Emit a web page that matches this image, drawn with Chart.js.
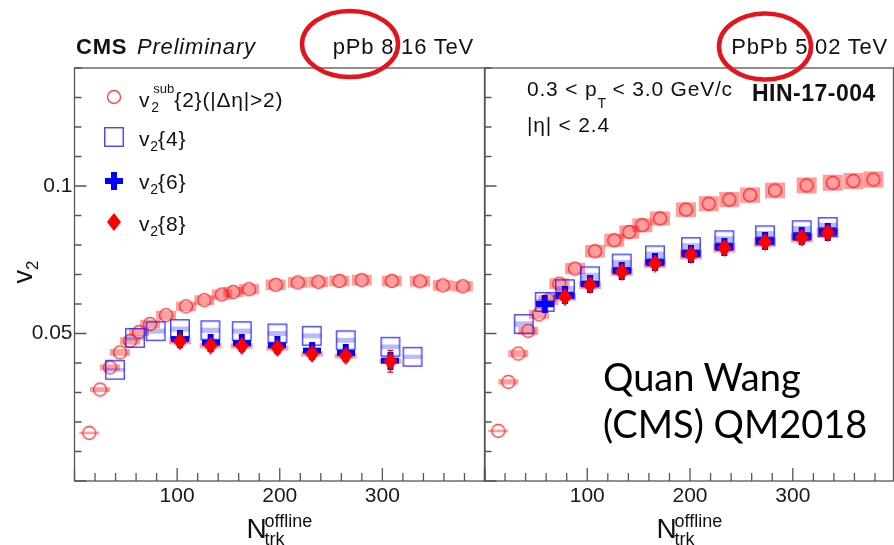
<!DOCTYPE html>
<html>
<head>
<meta charset="utf-8">
<title>v2 multi-particle cumulants vs multiplicity: pPb and PbPb</title>
<script src="https://cdn.jsdelivr.net/npm/chart.js@4.4.1/dist/chart.umd.min.js"></script>
<style>
  html, body { margin: 0; padding: 0; background: #fff; }
  #fig { position: relative; width: 894px; height: 545px; overflow: hidden; background: #fff; }
  #fig canvas { position: absolute; top: 0; }
  .t { position: absolute; white-space: nowrap; font-family: "Liberation Sans", Arial, Helvetica, sans-serif;
       line-height: 1; color: #111; letter-spacing: 0.8px; }
  .t .a { position: absolute; line-height: 1; }
  .t .sb { position: relative; top: 5px; font-size: 14px; letter-spacing: 0; }
  .ss { display: inline-block; position: relative; width: 24px; height: 21px; }
  .note { position: absolute; white-space: nowrap; font-family: Lato, "Open Sans", sans-serif;
          font-size: 38px; line-height: 1; color: #000; }
  #marks { position: absolute; left: 0; top: 0; pointer-events: none; }
</style>
</head>
<body>
<div id="fig">
  <canvas id="cPPb" width="486" height="545" style="left:0"></canvas>
  <canvas id="cPbPb" width="414" height="545" style="left:480px"></canvas>

  <!-- headers -->
  <div class="t" style="left:76px;top:36px;font-size:22px;font-weight:bold">CMS</div>
  <div class="t" style="left:137px;top:36px;font-size:22px;font-style:italic">Preliminary</div>
  <div class="t" style="right:420px;top:36px;font-size:22px">pPb 8.16 TeV</div>
  <div class="t" style="right:6px;top:36px;font-size:22px">PbPb 5.02 TeV</div>

  <!-- kinematic selection and analysis tag -->
  <div class="t" style="left:527px;top:78px;font-size:21px">0.3 &lt; p<span style="position:relative;top:12px;font-size:14px;letter-spacing:0">T</span> &lt; 3.0 GeV/c</div>
  <div class="t" style="left:527px;top:114px;font-size:21px">|η| &lt; 2.4</div>
  <div class="t" style="left:752px;top:82px;font-size:23px;font-weight:bold;letter-spacing:0.5px">HIN-17-004</div>

  <!-- legend text -->
  <div class="t" style="left:139px;top:85.7px;font-size:21px">v<span class="ss"><span class="a" style="left:3px;top:-4px;font-size:13px;letter-spacing:0">sub</span><span class="a" style="left:1px;top:14px;font-size:14px">2</span></span>{2}(|Δη|&gt;2)</div>
  <div class="t" style="left:139px;top:127.7px;font-size:21px">v<span class="sb">2</span>{4}</div>
  <div class="t" style="left:139px;top:171.2px;font-size:21px">v<span class="sb">2</span>{6}</div>
  <div class="t" style="left:139px;top:212.7px;font-size:21px">v<span class="sb">2</span>{8}</div>

  <!-- axis titles -->
  <div class="t" style="left:23px;top:272px;font-size:27px;letter-spacing:0;transform:translate(-50%,-50%) rotate(-90deg)">v<span style="position:relative;top:6px;font-size:17px">2</span></div>
  <div class="t" style="left:246.5px;top:514.6px;font-size:28px;letter-spacing:0">N<span class="a" style="left:18px;top:-3px;font-size:18px">offline</span><span class="a" style="left:18px;top:15px;font-size:18px">trk</span></div>
  <div class="t" style="left:656.5px;top:514.6px;font-size:28px;letter-spacing:0">N<span class="a" style="left:18px;top:-3px;font-size:18px">offline</span><span class="a" style="left:18px;top:15px;font-size:18px">trk</span></div>

  <!-- talk credit -->
  <div class="note" style="left:603px;top:357px">Quan Wang</div>
  <div class="note" style="left:603px;top:404px">(CMS) QM2018</div>

  <svg id="marks" width="894" height="545">
    <ellipse cx="350" cy="44" rx="48" ry="33" fill="none" stroke="#e5141c" stroke-width="4.5"/>
    <ellipse cx="765" cy="46.5" rx="46" ry="33" fill="none" stroke="#e5141c" stroke-width="4.5"/>
  </svg>
</div>

<script>
// ---------------- data ----------------
// pPb 8.16 TeV
const pPbSubNtrk = [14.4, 24.9, 34.6, 44.3, 54.1, 62.9, 73.6, 89.2, 108.7, 126.5, 143.5, 154.8, 170.1, 196.1, 217.6, 237.6, 258.1, 279.9, 309.2, 336.7, 358.9, 378.4];
const pPbSubV2   = [0.0163, 0.0310, 0.0385, 0.0436, 0.0475, 0.0505, 0.0532, 0.0562, 0.0592, 0.0613, 0.0632, 0.0641, 0.0650, 0.0665, 0.0673, 0.0675, 0.0678, 0.0681, 0.0678, 0.0677, 0.0663, 0.0660];
const pPbC4Ntrk  = [39.5, 59.0, 79.1, 102.8, 132.4, 163.0, 197.7, 231.2, 264.3, 307.8, 329.4];
const pPbC4V2    = [0.0377, 0.0485, 0.0508, 0.0515, 0.0511, 0.0508, 0.0500, 0.0492, 0.0477, 0.0455, 0.0421];
const pPbC68Ntrk = [102.8, 132.6, 163.0, 197.7, 231.5, 264.3, 307.8];
const pPbC6V2    = [0.0481, 0.0469, 0.0467, 0.0460, 0.0442, 0.0434, 0.0408];
const pPbC8V2    = [0.0473, 0.0459, 0.0458, 0.0451, 0.0431, 0.0424, 0.0406];
const pPbC8Err   = [0.0006, 0.0006, 0.0007, 0.0007, 0.0008, 0.0010, 0.0037];

// PbPb 5.02 TeV
const pbpbSubNtrk = [13.4, 23.2, 32.9, 42.6, 53.0, 62.1, 72.8, 88.1, 107.5, 126.3, 140.9, 153.6, 170.8, 196.1, 218.2, 238.2, 258.4, 282.7, 313.5, 338.9, 358.9, 378.4];
const pbpbSubV2   = [0.0170, 0.0336, 0.0432, 0.0509, 0.0565, 0.0613, 0.0669, 0.0720, 0.0779, 0.0816, 0.0844, 0.0867, 0.0890, 0.0920, 0.0940, 0.0954, 0.0969, 0.0985, 0.1002, 0.1011, 0.1017, 0.1022];
const pbpbC4Ntrk  = [38.2, 58.6, 78.3, 102.7, 133.5, 165.9, 200.9, 233.4, 273.0, 308.7, 334.0];
const pbpbC4V2    = [0.0532, 0.0607, 0.0650, 0.0694, 0.0737, 0.0765, 0.0793, 0.0816, 0.0833, 0.0850, 0.0861];
const pbpbC6Ntrk  = [58.6, 78.3, 102.7, 133.5, 165.9, 200.9, 233.4, 273.0, 308.7, 334.0];
const pbpbC6V2    = [0.0600, 0.0630, 0.0668, 0.0713, 0.0741, 0.0771, 0.0794, 0.0814, 0.0829, 0.0845];
const pbpbC8Ntrk  = [78.3, 102.7, 133.5, 165.9, 200.9, 233.4, 273.0, 308.7, 334.0];
const pbpbC8V2    = [0.0624, 0.0664, 0.0709, 0.0737, 0.0767, 0.0790, 0.0810, 0.0825, 0.0841];
const pbpbC8Err   = [0.0005, 0.0005, 0.0006, 0.0006, 0.0007, 0.0007, 0.0008, 0.0009, 0.0010];

// relative systematic uncertainties (boxes)
const sysRelSub = 0.027;
const sysRelC4  = 0.017;
const sysRelC6  = 0.018;
const sysRelC8  = 0.02;

// tick labels
const xTickLabels = [100, 200, 300];
const yTickLabels = [0.05, 0.1];

const FONT = '"Liberation Sans", Arial, Helvetica, sans-serif';

// ---------------- marker images ----------------
function marker(w, h, paint) {
  const c = document.createElement('canvas');
  c.width = w; c.height = h;
  paint(c.getContext('2d'), w, h);
  return c;
}
const MK = {
  circle: marker(16, 16, g => {
    g.strokeStyle = 'rgba(255,20,20,0.8)'; g.lineWidth = 1.4;
    g.beginPath(); g.arc(8, 8, 6.5, 0, Math.PI * 2); g.stroke();
  }),
  square: marker(22, 22, g => {
    g.strokeStyle = 'rgba(30,30,255,0.9)'; g.lineWidth = 1.3;
    g.strokeRect(1.75, 1.75, 18.5, 18.5);
  }),
  cross: marker(18, 18, g => {
    g.fillStyle = '#0000ff';
    g.fillRect(0, 6, 18, 6);
    g.fillRect(6, 0, 6, 18);
  }),
  diamond: marker(14, 18, g => {
    g.fillStyle = '#ff0000';
    g.beginPath(); g.moveTo(7, 0); g.lineTo(14, 9); g.lineTo(7, 18); g.lineTo(0, 9); g.closePath(); g.fill();
  })
};

// ---------------- plugins ----------------
// systematic boxes and statistical error bars, drawn under the markers
const sysBoxes = {
  id: 'sysBoxes',
  beforeDatasetsDraw(chart) {
    const { ctx, chartArea: a, scales: { x, y } } = chart;
    ctx.save();
    ctx.beginPath(); ctx.rect(a.left, a.top, a.right - a.left, a.bottom - a.top); ctx.clip();
    const metas = chart.getSortedVisibleDatasetMetas().slice().reverse();
    for (const meta of metas) {
      const ds = chart.data.datasets[meta.index];
      if (!ds.sys) continue;
      ctx.fillStyle = ds.sys.color;
      ds.data.forEach(p => {
        const cx = x.getPixelForValue(p.x);
        const top = y.getPixelForValue(p.y * (1 + ds.sys.rel));
        const bot = y.getPixelForValue(p.y * (1 - ds.sys.rel));
        ctx.fillRect(cx - ds.sys.half, top, 2 * ds.sys.half, Math.max(bot - top, 1.2));
      });
    }
    for (const meta of metas) {
      const ds = chart.data.datasets[meta.index];
      if (!ds.err) continue;
      ctx.strokeStyle = ds.errColor; ctx.lineWidth = 1.3;
      ctx.beginPath();
      ds.data.forEach((p, i) => {
        const cx = x.getPixelForValue(p.x);
        const hi = y.getPixelForValue(p.y + ds.err[i]);
        const lo = y.getPixelForValue(p.y - ds.err[i]);
        ctx.moveTo(cx, hi); ctx.lineTo(cx, lo);
        ctx.moveTo(cx - 3, hi); ctx.lineTo(cx + 3, hi);
        ctx.moveTo(cx - 3, lo); ctx.lineTo(cx + 3, lo);
      });
      ctx.stroke();
    }
    ctx.restore();
  }
};

// frame with inward-pointing major/minor ticks
const rootFrame = {
  id: 'rootFrame',
  afterDraw(chart, args, o) {
    const { ctx, chartArea: a, scales: { x, y } } = chart;
    const isMajor = (v, step) => Math.abs(v / step - Math.round(v / step)) < 1e-6;
    ctx.save();
    ctx.strokeStyle = '#555'; ctx.lineWidth = 1.3;
    ctx.strokeRect(a.left, a.top, a.right - a.left, a.bottom - a.top);
    ctx.beginPath();
    for (let k = 0; x.min + k * o.xMinor <= x.max + 1e-9; k++) {
      const v = x.min + k * o.xMinor;
      const px = x.getPixelForValue(v);
      const len = isMajor(v, o.xMajor) ? 13 : 8;
      ctx.moveTo(px, a.bottom); ctx.lineTo(px, a.bottom - len);
    }
    for (let k = 0; y.min + k * o.yMinor <= y.max + 1e-9; k++) {
      const v = y.min + k * o.yMinor;
      const py = y.getPixelForValue(v);
      const len = isMajor(v, o.yMajor) ? 12 : 7;
      ctx.moveTo(a.left, py); ctx.lineTo(a.left + len, py);
    }
    ctx.stroke();
    ctx.restore();
  }
};

// ---------------- charts ----------------
function pts(xs, ys) { return xs.map((v, i) => ({ x: v, y: ys[i] })); }

function buildDatasets(s) {
  return [
    { label: 'v2sub{2}(|Δη|>2)', data: pts(s.subN, s.subV), pointStyle: MK.circle, order: 4,
      sys: { rel: sysRelSub, half: 10, color: 'rgba(255,0,0,0.38)' } },
    { label: 'v2{4}', data: pts(s.c4N, s.c4V), pointStyle: MK.square, order: 3,
      sys: { rel: sysRelC4, half: 9.5, color: 'rgba(40,40,255,0.32)' } },
    { label: 'v2{6}', data: pts(s.c6N, s.c6V), pointStyle: MK.cross, order: 2,
      sys: { rel: sysRelC6, half: 8.5, color: 'rgba(0,0,215,0.8)' } },
    { label: 'v2{8}', data: pts(s.c8N, s.c8V), pointStyle: MK.diamond, order: 1,
      sys: { rel: sysRelC8, half: 11, color: 'rgba(255,0,0,0.38)' },
      err: s.c8Err, errColor: '#ff0000' }
  ].map(d => Object.assign({ showLine: false, pointRadius: 6, pointHoverRadius: 6 }, d));
}

function buildOptions(xMax, yAxisWidth, padRight, showYLabels) {
  return {
    responsive: false, animation: false, devicePixelRatio: 1,
    layout: { autoPadding: false, padding: { top: 68, right: padRight, bottom: 0, left: 0 } },
    plugins: {
      legend: { display: false }, tooltip: { enabled: false },
      rootFrame: { xMinor: 20, xMajor: 100, yMinor: 0.01, yMajor: 0.05 }
    },
    scales: {
      x: {
        type: 'linear', min: 0, max: xMax,
        afterFit(s) { s.height = 64; s.paddingLeft = 0; s.paddingRight = 0; },
        grid: { display: false, drawTicks: false }, border: { display: false },
        ticks: { stepSize: 20, autoSkip: false, maxRotation: 0, minRotation: 0, padding: 3,
                 color: '#1a1a1a', font: { family: FONT, size: 21 },
                 callback: v => xTickLabels.includes(v) ? String(v) : '' }
      },
      y: {
        type: 'linear', min: 0, max: 0.14,
        afterFit(s) { s.width = yAxisWidth; s.paddingTop = 0; s.paddingBottom = 0; },
        grid: { display: false, drawTicks: false }, border: { display: false },
        ticks: { display: showYLabels, stepSize: 0.01, autoSkip: false, padding: 2,
                 color: '#1a1a1a', font: { family: FONT, size: 21 },
                 callback: v => { const m = yTickLabels.find(t => Math.abs(t - v) < 1e-9); return m !== undefined ? String(m) : ''; } }
      }
    }
  };
}

new Chart(document.getElementById('cPPb'), {
  type: 'scatter',
  data: { datasets: buildDatasets({
    subN: pPbSubNtrk, subV: pPbSubV2, c4N: pPbC4Ntrk, c4V: pPbC4V2,
    c6N: pPbC68Ntrk, c6V: pPbC6V2, c8N: pPbC68Ntrk, c8V: pPbC8V2, c8Err: pPbC8Err }) },
  options: buildOptions(400, 74.5, 1, true),
  plugins: [sysBoxes, rootFrame]
});

new Chart(document.getElementById('cPbPb'), {
  type: 'scatter',
  data: { datasets: buildDatasets({
    subN: pbpbSubNtrk, subV: pbpbSubV2, c4N: pbpbC4Ntrk, c4V: pbpbC4V2,
    c6N: pbpbC6Ntrk, c6V: pbpbC6V2, c8N: pbpbC8Ntrk, c8V: pbpbC8V2, c8Err: pbpbC8Err }) },
  options: buildOptions(398, 4.5, 0.5, false),
  plugins: [sysBoxes, rootFrame]
});

// legend markers
const fig = document.getElementById('fig');
[[MK.circle, 96.7], [MK.square, 136.5], [MK.cross, 180.5], [MK.diamond, 221.5]].forEach(([img, yc]) => {
  const c = document.createElement('canvas');
  c.width = img.width; c.height = img.height;
  c.getContext('2d').drawImage(img, 0, 0);
  c.style.left = (114 - img.width / 2) + 'px';
  c.style.top = (yc - img.height / 2) + 'px';
  fig.insertBefore(c, document.getElementById('marks'));
});
</script>
</body>
</html>
